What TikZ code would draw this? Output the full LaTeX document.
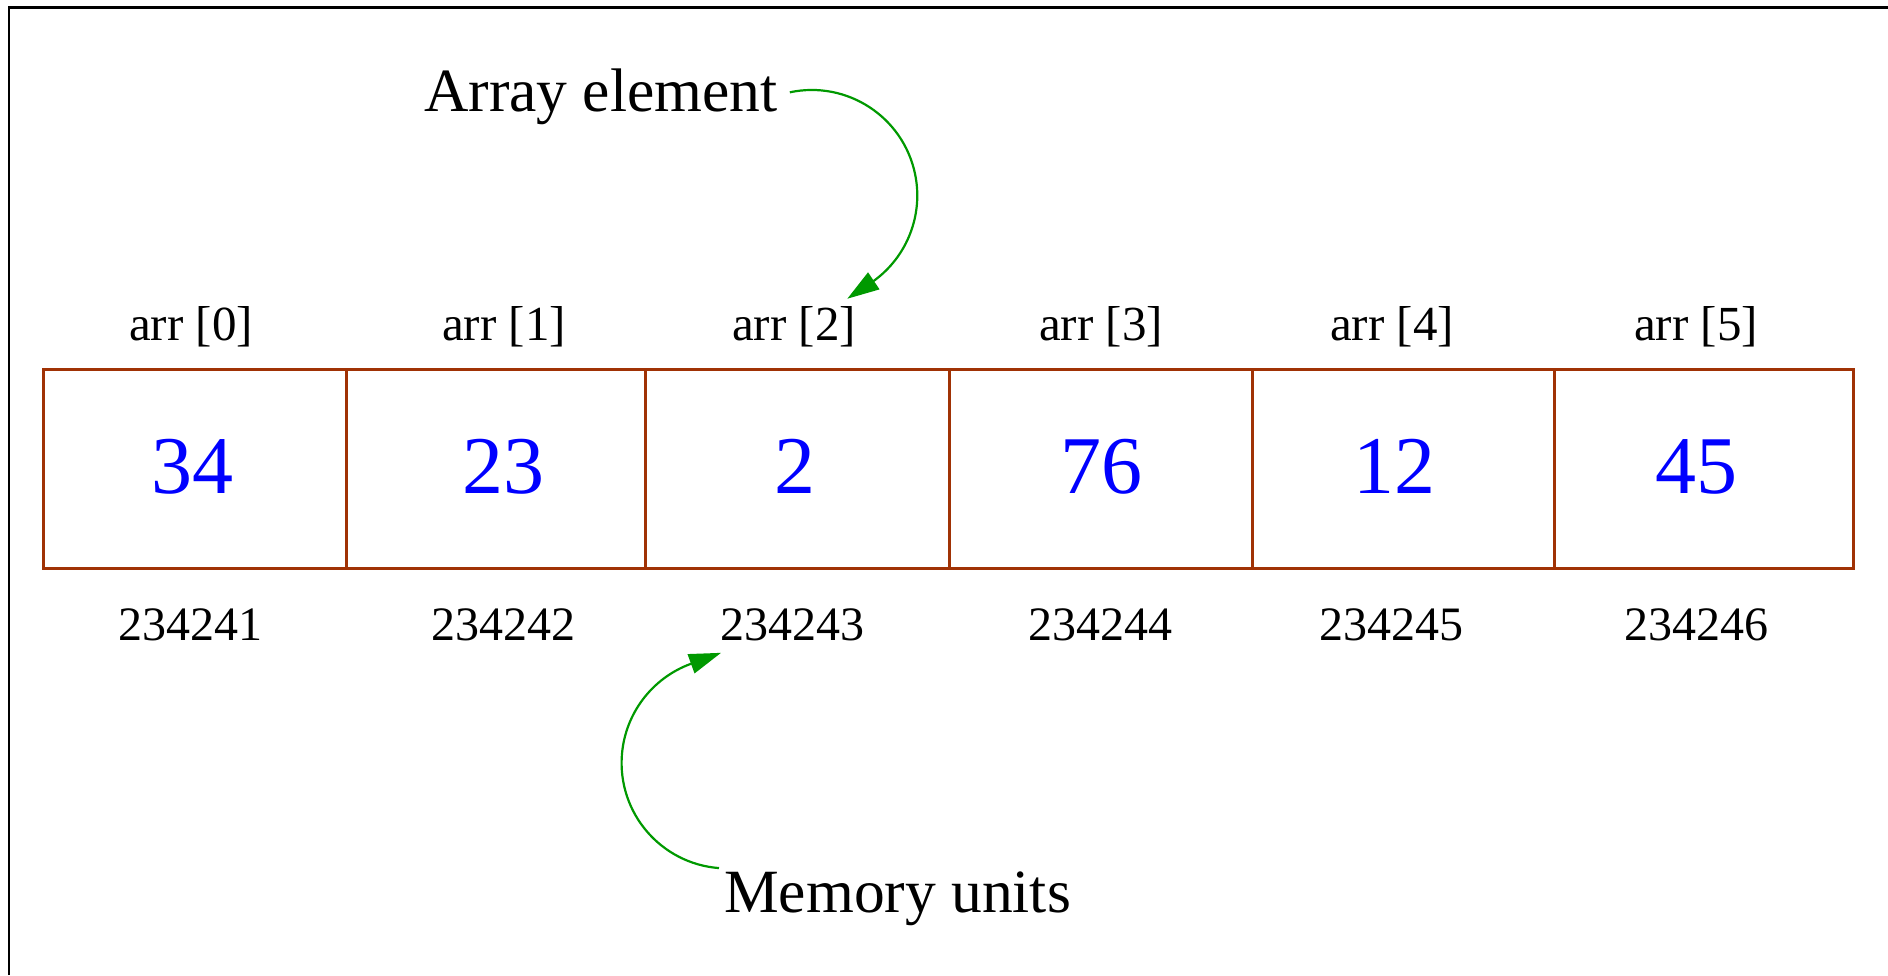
\documentclass[tikz,border=0pt]{standalone}
\usepackage{fontspec}
\setmainfont{Liberation Serif}
\usetikzlibrary{arrows.meta}
\definecolor{cellbrown}{RGB}{160,50,5}
\definecolor{valblue}{RGB}{0,0,255}
\definecolor{ptrgreen}{RGB}{0,153,0}
\tikzset{
  cell/.style={draw=cellbrown, line width=2.5pt, anchor=north west, minimum height=199pt, inner sep=0pt},
  idx/.style={font=\fontsize{49}{58}\selectfont, inner sep=0pt, anchor=base},
  addr/.style={font=\fontsize{48}{58}\selectfont, inner sep=0pt, anchor=base},
  val/.style={font=\fontsize{82}{98}\selectfont, text=valblue, inner sep=0pt, anchor=base},
  caption/.style={font=\fontsize{61.5}{74}\selectfont, inner sep=0pt, anchor=base west},
  pointer/.style={draw=ptrgreen, line width=2.2pt, -{Triangle[length=32pt,width=20pt]}}
}
\begin{document}
\begin{tikzpicture}[x=1pt,y=1pt]
\useasboundingbox (0,0) rectangle (1888,-975);
% outer frame (top and left edges)
\draw[line width=2.5pt] (9,-975) |- (1888,-7.5);

% array cells
\node[cell, minimum width=303pt] (c0) at (42,-368) {};
\node[cell, minimum width=299pt] (c1) at (345,-368) {};
\node[cell, minimum width=304pt] (c2) at (644,-368) {};
\node[cell, minimum width=303pt] (c3) at (948,-368) {};
\node[cell, minimum width=302pt] (c4) at (1251,-368) {};
\node[cell, minimum width=299pt] (c5) at (1553,-368) {};

% index labels
\node[idx] (l0) at (191,-340) {arr [0]};
\node[idx] (l1) at (504,-340) {arr [1]};
\node[idx] (l2) at (794,-340) {arr [2]};
\node[idx] (l3) at (1101,-340) {arr [3]};
\node[idx] (l4) at (1392,-340) {arr [4]};
\node[idx] (l5) at (1696,-340) {arr [5]};

% stored values
\node[val] (v0) at (192,-493) {34};
\node[val] (v1) at (503,-493) {23};
\node[val] (v2) at (795,-493) {2};
\node[val] (v3) at (1101,-493) {76};
\node[val] (v4) at (1394,-493) {12};
\node[val] (v5) at (1696,-493) {45};

% memory addresses
\node[addr] (m0) at (190,-640) {234241};
\node[addr] (m1) at (503,-640) {234242};
\node[addr] (m2) at (792,-640) {234243};
\node[addr] (m3) at (1100,-640) {234244};
\node[addr] (m4) at (1391,-640) {234245};
\node[addr] (m5) at (1696,-640) {234246};

% captions
\node[caption] (ae) at (424,-111) {Array element};
\node[caption] (mu) at (724,-912) {Memory units};

% pointers: circular arcs from each caption, finished by a straight tip segment
\draw[pointer] ([xshift=12pt,yshift=4pt]ae.east)
  arc[start angle=102, end angle=-54, radius=105.5] -- ++(-146:32);
\draw[pointer] ([xshift=-5pt,yshift=3pt]mu.north west)
  arc[start angle=265.6, end angle=110, radius=105.5] -- ++(20:32);
\end{tikzpicture}
\end{document}
